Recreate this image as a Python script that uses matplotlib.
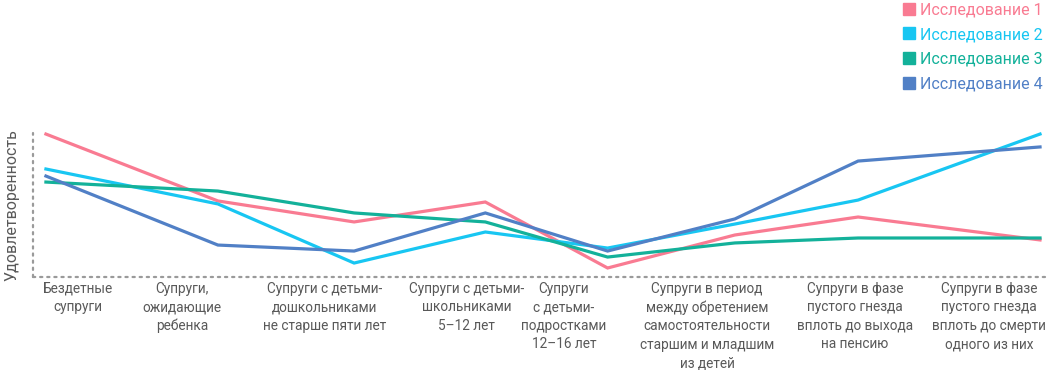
import matplotlib
matplotlib.use('Agg')
import matplotlib.pyplot as plt
from matplotlib.lines import Line2D

plt.rcParams['font.family'] = ['Roboto', 'DejaVu Sans']

# ---------------------------------------------------------------------------
# Data (satisfaction by family life-cycle stage, arbitrary units)
# ---------------------------------------------------------------------------
stages = [
    'Бездетные\nсупруги',
    'Супруги,\nожидающие\nребенка',
    'Супруги с детьми-\nдошкольниками\nне старше пяти лет',
    'Супруги с детьми-\nшкольниками\n5–12 лет',
    'Супруги\nс детьми-\nподростками\n12–16 лет',
    'Супруги в период\nмежду обретением\nсамостоятельности\nстаршим и младшим\nиз детей',
    'Супруги в фазе\nпустого гнезда\nвплоть до выхода\nна пенсию',
    'Супруги в фазе\nпустого гнезда\nвплоть до смерти\nодного из них',
]
stage_x = [0, 17.3, 31.0, 44.2, 56.5, 69.3, 81.7, 100]
label_x = [3.2, 13.7, 28.0, 42.3, 52.1, 66.5, 81.4, 94.9]

series_names = ['Исследование 1', 'Исследование 2', 'Исследование 3', 'Исследование 4']
study1 = [95.3, 50.7, 36.7, 50.0, 6.0, 28.0, 40.0, 24.7]
study2 = [72.0, 48.7, 9.3, 30.0, 19.3, 35.3, 51.3, 95.3]
study3 = [63.3, 57.3, 42.7, 36.7, 13.3, 22.7, 26.0, 26.0]
study4 = [67.3, 21.3, 17.3, 42.7, 17.3, 38.7, 77.3, 86.7]
colors = ['#F97B92', '#18C6F2', '#13B19A', '#5180C6']

# ---------------------------------------------------------------------------
# Plot
# ---------------------------------------------------------------------------
fig = plt.figure(figsize=(10.5, 3.7), dpi=100)
ax = fig.add_axes([33 / 1050, 93 / 370, (1045 - 33) / 1050, (277 - 133) / 370])

for vals, c in zip([study1, study2, study3, study4], colors):
    ax.plot(stage_x, vals, color=c, linewidth=2.3, clip_on=False,
            solid_joinstyle='miter')

ax.set_xlim(-1.3, 100.5)
ax.set_ylim(0, 96)

for s in ['top', 'right']:
    ax.spines[s].set_visible(False)
for s in ['left', 'bottom']:
    ax.spines[s].set_linestyle((0, (1, 2.2)))
    ax.spines[s].set_color('#9a9a9a')
    ax.spines[s].set_linewidth(1.6)
    ax.spines[s].set_capstyle('round')

ax.set_yticks([])
ax.set_xticks([])

for x, lab in zip(label_x, stages):
    ax.text(x, -3.0, lab, ha='center', va='top', fontsize=9.8,
            color='#595959', linespacing=1.42, transform=ax.transData)

fig.text(12 / 1050, 1 - 205 / 370, 'Удовлетворенность', rotation=90,
         ha='center', va='center', fontsize=11.5, color='#595959')

handles = [Line2D([], [], marker='s', linestyle='none', color=c, markersize=9)
           for c in colors]
fig.legend(handles, series_names, loc='upper right',
           bbox_to_anchor=(1054 / 1050, 1 + 9 / 370), frameon=False,
           fontsize=11.5, labelcolor=colors, handletextpad=0.2,
           handlelength=1.0, labelspacing=0.62, borderpad=0.2)

plt.savefig('out.png', dpi=100)
plt.close()
